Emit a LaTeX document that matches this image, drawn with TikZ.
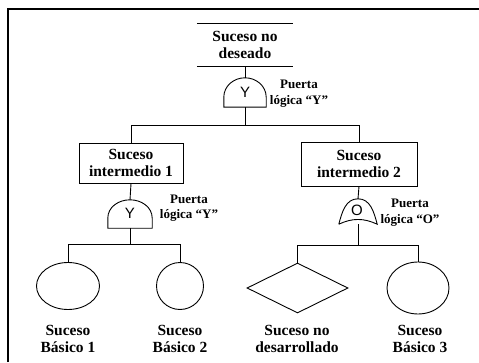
\documentclass[tikz,border=0pt]{standalone}
\usepackage{fontspec}
\setmainfont{Liberation Serif}
\newfontfamily\gatefont{Liberation Sans}
\usetikzlibrary{shapes.geometric}
\begin{document}
\begin{tikzpicture}[x=1pt,y=1pt,
  txt/.style={font=\bfseries\fontsize{15.5}{17}\selectfont, align=center, inner sep=0pt},
  gatelabel/.style={font=\bfseries\fontsize{13}{15.5}\selectfont, align=center, inner sep=0pt},
  evbox/.style={draw, line width=0.9pt, font=\bfseries\fontsize{15.5}{17}\selectfont, align=center, inner sep=0pt},
  gatenode/.style={inner sep=0pt, font=\gatefont\fontsize{15}{15}\selectfont},
  gateline/.style={line width=0.9pt},
  conn/.style={line width=0.9pt},
  basic/.style={draw, ellipse, line width=0.9pt, inner sep=0pt},
  undev/.style={draw, diamond, line width=0.9pt, inner sep=0pt, aspect=2},
  frameline/.style={line width=2pt}
]
\useasboundingbox (0,0) rectangle (479,362);

% frame (only top and left edges visible)
\draw[frameline] (8,0) -- (8,353) -- (479,353);

% top event
\node[txt, minimum width=96pt, minimum height=42pt] (top) at (245,317) {Suceso no\\deseado};
\draw[conn] (top.north west) -- (top.north east);
\draw[conn] (top.south west) -- (top.south east);

% gate 1 (AND)
\node[gatenode, minimum width=42pt, minimum height=29pt] (g1) at (245,269.5) {};
\node[gatenode] (y1) at (245,270) {Y};
\draw[gateline] (g1.south west) -- ([yshift=10pt]g1.south west) to[out=90,in=180] (g1.north)
  to[out=0,in=90] ([yshift=10pt]g1.south east) -- (g1.south east) -- cycle;
\node[gatelabel] (l1) at (299,268.5) {Puerta\\lógica “Y”};

% intermediate events
\node[evbox, minimum width=104pt, minimum height=40pt] (b1) at (131,199) {Suceso\\intermedio 1};
\node[evbox, minimum width=116pt, minimum height=44pt] (b2) at (359,198) {Suceso\\intermedio 2};

\draw[conn] (top.south) -- (g1.north);
\draw[conn] (g1.south) -- ++(0,-18) coordinate (j1);
\draw[conn] (b1.north) |- (j1) -| (b2.north);

% gate 2 (AND)
\node[gatenode, minimum width=44pt, minimum height=28pt] (g2) at (130,148) {};
\node[gatenode] (y2) at (130,149) {Y};
\draw[gateline] (g2.south west) -- ([yshift=10pt]g2.south west) to[out=90,in=180] (g2.north)
  to[out=0,in=90] ([yshift=10pt]g2.south east) -- (g2.south east) -- cycle;
\node[gatelabel] (l2) at (189,154) {Puerta\\lógica “Y”};

% gate 3 (OR)
\node[gatenode, minimum width=38pt, minimum height=25pt] (g3) at (358,150.5) {};
\node[gatenode] (o3) at (357,152) {O};
\draw[gateline] (g3.south west) to[out=75,in=180] (g3.north) to[out=0,in=105] (g3.south east)
  to[out=155,in=25] (g3.south west);
\node[gatelabel] (l3) at (410,149.5) {Puerta\\lógica “O”};

\draw[conn] (b1.south) -- (g2.north);
\draw[conn] (b2.south) -- (g3.north);

% basic events
\node[basic, minimum width=63pt, minimum height=47pt] (c1) at (68,76) {};
\node[basic, minimum width=47pt, minimum height=47pt] (c2) at (180,76) {};
\node[undev, minimum width=101pt, minimum height=50pt] (d) at (297.5,74) {};
\node[basic, minimum width=62pt, minimum height=52pt] (c3) at (418,74) {};

\draw[conn] (g2.south) -- ++(0,-16) coordinate (j2);
\draw[conn] (c1.north) |- (j2) -| (c2.north);
\draw[conn] (g3.south) -- ++(0,-21.5) coordinate (j3);
\draw[conn] (d.north) |- (j3) -| (c3.north);

% labels
\node[txt] (t1) at (68,23.5) {Suceso\\Básico 1};
\node[txt] (t2) at (180,23.5) {Suceso\\Básico 2};
\node[txt] (t3) at (297,23.5) {Suceso no\\desarrollado};
\node[txt] (t4) at (420,23.5) {Suceso\\Básico 3};
\end{tikzpicture}
\end{document}
